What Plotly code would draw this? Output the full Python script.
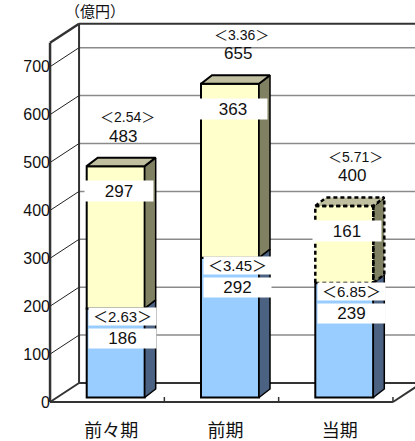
import plotly.graph_objects as go

# ---------------- data ----------------
categories = ["前々期", "前期", "当期"]
lower_values = [186, 292, 239]          # blue segment
upper_values = [297, 363, 161]          # yellow segment
total_values = [483, 655, 400]
lower_ratio_text = ["2.63", "3.45", "6.85"]
total_ratio_text = ["2.54", "3.36", "5.71"]
y_tick_values = [0, 100, 200, 300, 400, 500, 600, 700]
axis_top = 750
unit_text = "（億円）"

# ---------------- geometry / style ----------------
W, H = 415, 441
PX_X = 114.3      # px per category unit
PX_Y = 0.479      # px per value unit
X0 = 107.2        # px of category 0 on front plane
Y0 = 402.0        # px of value 0 on front plane
BX = 29 / PX_X    # back-wall depth offset (x units)
BY = 19 / PX_Y    # back-wall depth offset (value units)
BAR_SX = 8.5 / PX_X
BAR_SY = 4.5 / PX_Y
BAR_W = 58 / PX_X
BAR_DX = 11 / PX_X
BAR_DY = 8.5 / PX_Y

x_range = [(0 - X0) / PX_X, (W - X0) / PX_X]
y_range = [(Y0 - H) / PX_Y, Y0 / PX_Y]

FRAME = "#333333"
GRID = "#8a8a8a"
BLUE = "#99CCFF"
BLUE_SIDE = "#4B6282"
YEL = "#FFFFCC"
YEL_SIDE = "#808062"
YEL_TOP = "#C0C0A0"
NUM_FONT = "Liberation Sans, Arial, Noto Sans CJK JP"
JP_FONT = "Noto Sans CJK JP"

n = len(categories)
xs = [i + BAR_SX for i in range(n)]
left_wall = -0.5
right_end = n - 0.5

shapes = []


def seg(x0, y0, x1, y1, color, width, dash=None):
    d = dict(type="line", xref="x", yref="y", x0=x0, y0=y0, x1=x1, y1=y1,
             line=dict(color=color, width=width), layer="below")
    if dash:
        d["line"]["dash"] = dash
    shapes.append(d)


# back-wall gridlines
for v in y_tick_values[1:]:
    seg(left_wall + BX, v + BY, x_range[1] + 1, v + BY, GRID, 1.5)
# back wall frame
seg(left_wall + BX, BY, x_range[1] + 1, BY, FRAME, 2)
seg(left_wall + BX, axis_top + BY, x_range[1] + 1, axis_top + BY, FRAME, 2)
seg(left_wall + BX, BY, left_wall + BX, axis_top + BY, FRAME, 2)
# left wall diagonals
for v in y_tick_values[1:]:
    seg(left_wall, v, left_wall + BX, v + BY, "#222222", 1)
seg(left_wall, 0, left_wall + BX, BY, FRAME, 2)
seg(left_wall, axis_top, left_wall + BX, axis_top + BY, FRAME, 2.5)
# front axis & floor
seg(left_wall, 0, left_wall, axis_top, FRAME, 2.5)
seg(left_wall, 0, right_end, 0, FRAME, 2)
seg(right_end, 0, right_end + BX, BY, FRAME, 2)
for k in range(1, n + 1):
    seg(k - 0.5, 0, k - 0.5, 5 / PX_Y, FRAME, 1.5)

fig = go.Figure()

lower_base = [BAR_SY] * n
upper_base = [l + BAR_SY for l in lower_values]
dashed = [False, False, True]

# front faces
fig.add_trace(go.Bar(x=xs, y=lower_values, base=lower_base, width=BAR_W,
                     marker=dict(color=BLUE, line=dict(color="black", width=2)),
                     hoverinfo="skip"))
fig.add_trace(go.Bar(x=xs, y=upper_values, base=upper_base, width=BAR_W,
                     marker=dict(color=YEL, line=dict(color="black",
                                                      width=[0 if d else 2 for d in dashed])),
                     hoverinfo="skip"))


def side_poly(i, b, t):
    xr_ = xs[i] + BAR_W / 2
    return ([xr_, xr_ + BAR_DX, xr_ + BAR_DX, xr_, xr_],
            [b, b + BAR_DY, t + BAR_DY, t, b])


def top_poly(i, t):
    xl = xs[i] - BAR_W / 2
    xr_ = xs[i] + BAR_W / 2
    return ([xl, xl + BAR_DX, xr_ + BAR_DX, xr_, xl],
            [t, t + BAR_DY, t + BAR_DY, t, t])


def front_poly(i, b, t):
    xl = xs[i] - BAR_W / 2
    xr_ = xs[i] + BAR_W / 2
    return ([xl, xr_, xr_, xl, xl], [b, b, t, t, b])


def add_poly(px, py, fill, lw, dash=None, fillit=True):
    line = dict(color="black", width=lw)
    if dash:
        line["dash"] = dash
    fig.add_trace(go.Scatter(x=px, y=py, mode="lines",
                             fill="toself" if fillit else "none",
                             fillcolor=fill, line=line, hoverinfo="skip"))


for i in range(n):
    b = lower_base[i]
    t = b + lower_values[i]
    px, py = side_poly(i, b, t)
    add_poly(px, py, BLUE_SIDE, 1.5)

for i in range(n):
    b = upper_base[i]
    t = b + upper_values[i]
    dash = "4px,3px" if dashed[i] else None
    lw = 2.5 if dashed[i] else 1.5
    px, py = side_poly(i, b, t)
    add_poly(px, py, YEL_SIDE, lw, dash)
    px, py = top_poly(i, t)
    add_poly(px, py, YEL_TOP, lw if dashed[i] else 2, dash)
    if dashed[i]:
        px, py = front_poly(i, b, t)
        add_poly(px, py, YEL, 2.5, dash, fillit=False)

annotations = []
for i in range(n):
    cx = xs[i]
    top = total_values[i] + BAR_SY
    mid = lower_values[i] + BAR_SY
    annotations.append(dict(x=cx + BAR_DX / 2, y=top, xref="x", yref="y",
                            text="＜" + total_ratio_text[i] + "＞", showarrow=False,
                            xshift=6, yshift=49,
                            font=dict(size=14, color="#111111", family=NUM_FONT)))
    annotations.append(dict(x=cx + BAR_DX / 2, y=top, xref="x", yref="y",
                            text=str(total_values[i]), showarrow=False,
                            xshift=2, yshift=30,
                            font=dict(size=17, color="#111111", family=NUM_FONT)))
    annotations.append(dict(x=cx, y=top, xref="x", yref="y",
                            text=str(upper_values[i]), showarrow=False,
                            xshift=3, yshift=-25, width=68, height=20,
                            bgcolor="white", borderpad=0,
                            font=dict(size=17, color="#111111", family=NUM_FONT)))
    annotations.append(dict(x=cx, y=mid, xref="x", yref="y",
                            text="＜" + lower_ratio_text[i] + "＞", showarrow=False,
                            xshift=7, yshift=-8, width=67, height=17,
                            bgcolor="white", borderpad=0,
                            font=dict(size=15, color="#111111", family=NUM_FONT)))
    annotations.append(dict(x=cx, y=mid, xref="x", yref="y",
                            text=str(lower_values[i]), showarrow=False,
                            xshift=7, yshift=-30, width=67, height=19,
                            bgcolor="white", borderpad=0,
                            font=dict(size=17, color="#111111", family=NUM_FONT)))

annotations.append(dict(x=left_wall + BX, y=axis_top + BY, xref="x", yref="y",
                        text=unit_text, showarrow=False, xshift=16, yshift=13,
                        font=dict(size=15, color="#111111", family=JP_FONT)))

fig.update_layout(
    width=W, height=H,
    margin=dict(l=0, r=0, t=0, b=0),
    paper_bgcolor="white", plot_bgcolor="white",
    showlegend=False, barmode="overlay",
    shapes=shapes, annotations=annotations,
    xaxis=dict(range=x_range, anchor="free", position=(H - Y0) / H,
               tickmode="array", tickvals=list(range(n)), ticktext=categories,
               ticks="", showgrid=False, zeroline=False, showline=False,
               ticklabelshift=4, ticklabelstandoff=16,
               tickfont=dict(size=18, color="#111111", family=JP_FONT),
               fixedrange=True),
    yaxis=dict(range=y_range, anchor="free", position=50 / W,
               tickmode="array", tickvals=y_tick_values,
               ticks="", showgrid=False, zeroline=False, showline=False,
               tickfont=dict(size=16, color="#111111", family=NUM_FONT),
               fixedrange=True),
)

fig.write_html("out.html")
